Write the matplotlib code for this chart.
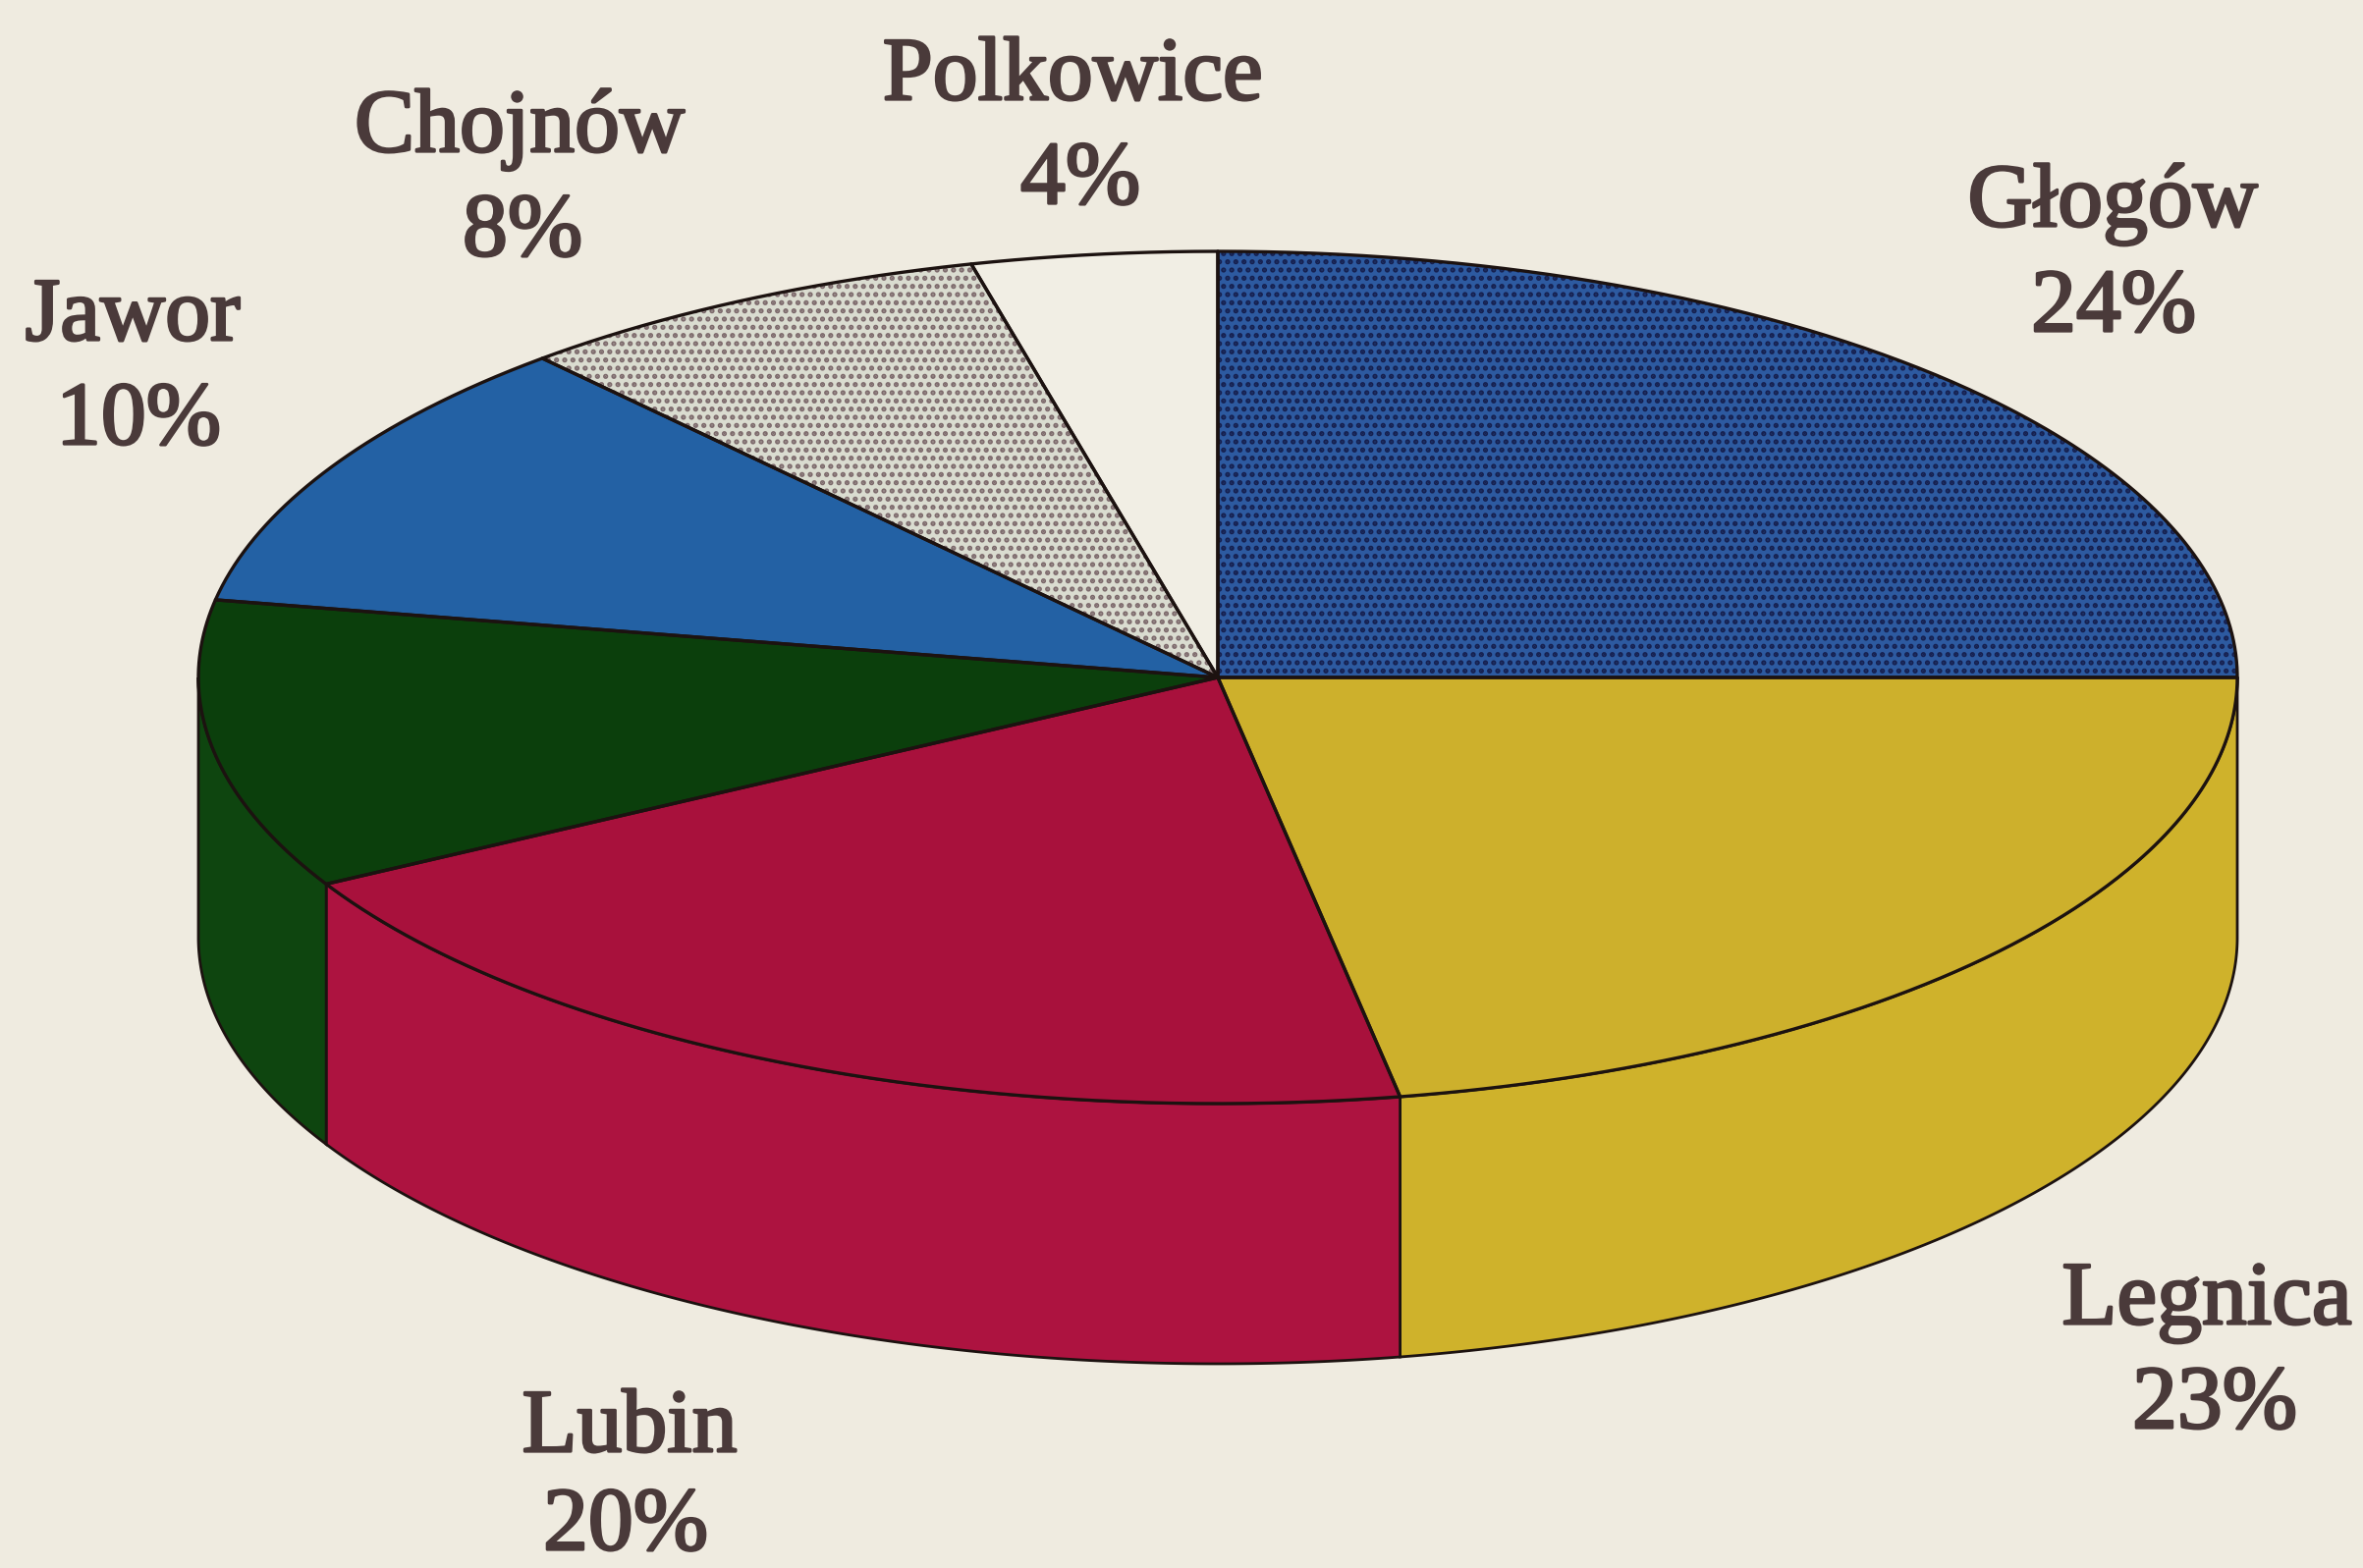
import matplotlib
matplotlib.use('Agg')
import matplotlib.pyplot as plt
import matplotlib.patheffects as pe
import numpy as np

# slices clockwise from 12 o'clock, spans (degrees)
names = ['Głogów', 'Legnica', 'Lubin', '', 'Jawor', 'Chojnów', 'Polkowice']
percents = ['24%', '23%', '20%', '', '10%', '8%', '4%']
spans = [90, 79.7, 71.3, 39.5, 38, 27.5, 14]
colors = ['#2d5aa0', '#cdb02c', '#a8113c', '#0b3f0c', '#2361a4', '#dadcd0', '#f1eee4']
side_colors = ['#27468f', '#cfb22b', '#ad1340', '#0e450f', '#2361a4', '#dcdccf', '#f1eee4']
hatches = ['..', None, None, None, None, '..', None]
hatch_colors = ['#16204f', None, None, None, None, '#7d6a6c', None]

name_xy = [(2151, 208), (2247, 1326), (641, 1456), None, (135, 324), (529, 132), (1092, 79)]
pct_xy = [(2152, 315), (2255, 1432), (637, 1556), None, (141, 430), (532, 238), (1100, 185)]

paper = '#efebe0'
ink = '#4a3a3a'
line = '#1c1210'

cx, cy = 1240, 690
rx, ry = 1038, 434
depth = 265


def rim(t0, t1, dy=0):
    t = np.radians(np.linspace(t0, t1, 200))
    return cx + rx * np.cos(t), cy - ry * np.sin(t) + dy


plt.rcParams['hatch.linewidth'] = 2.5

fig = plt.figure(figsize=(24.06, 15.97), dpi=100, facecolor=paper)
ax = fig.add_axes([0, 0, 1, 1])
ax.set_xlim(0, 2406)
ax.set_ylim(1597, 0)
ax.axis('off')

ends = 90 - np.cumsum(spans)
starts = ends + np.array(spans)

# side wall, only the front half of the rim shows
for a, b, c in zip(starts, ends, side_colors):
    a2, b2 = min(a, 0), max(b, -180)
    if a2 <= b2:
        continue
    x, y = rim(a2, b2)
    xb, yb = rim(b2, a2, depth)
    ax.fill(np.r_[x, xb], np.r_[y, yb], facecolor=c, edgecolor=line, linewidth=2, zorder=2)

# top face
for a, b, c, h, hc in zip(starts, ends, colors, hatches, hatch_colors):
    x, y = rim(a, b)
    xs, ys = np.r_[cx, x], np.r_[cy, y]
    ax.fill(xs, ys, facecolor=c, edgecolor='none', zorder=3)
    if h:
        ax.fill(xs, ys, facecolor='none', edgecolor=hc, hatch=h, linewidth=0, zorder=3)
    ax.plot(np.r_[xs, cx], np.r_[ys, cy], color=line, linewidth=2.4, solid_joinstyle='round', zorder=4)

for name, pct, nxy, pxy in zip(names, percents, name_xy, pct_xy):
    if not name:
        continue
    for s, xy in ((name, nxy), (pct, pxy)):
        ax.text(xy[0], xy[1], s, family='Liberation Serif', fontsize=66, color=ink,
                ha='center', va='center', zorder=5,
                path_effects=[pe.withStroke(linewidth=2, foreground=ink)])

fig.savefig('out.png', dpi=100, facecolor=paper)
